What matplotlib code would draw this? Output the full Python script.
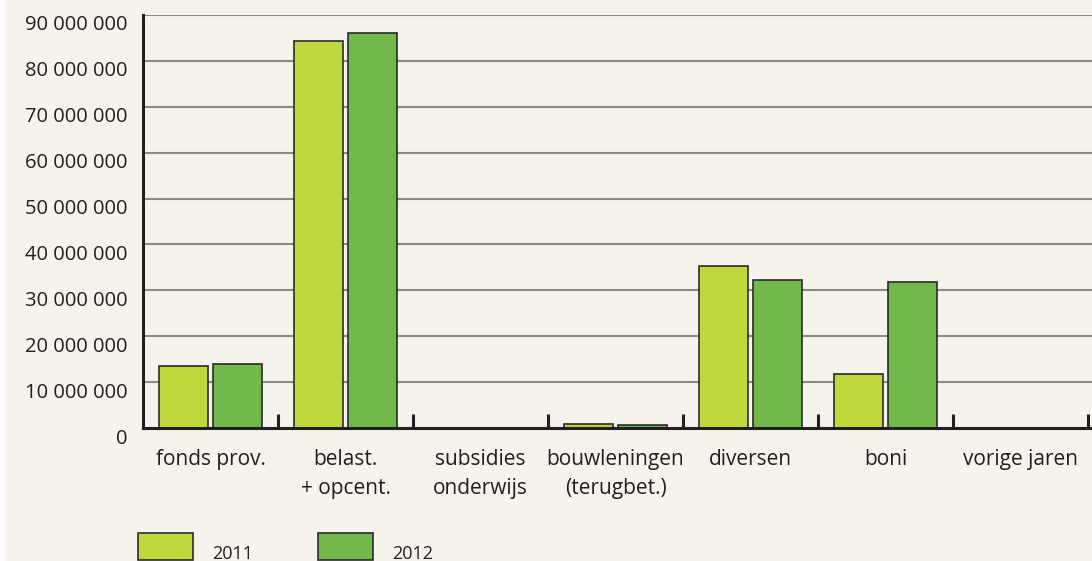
import matplotlib
matplotlib.use("Agg")
import matplotlib.pyplot as plt
import matplotlib.transforms as mtransforms
from matplotlib.patches import Rectangle
import numpy as np

categories = ["fonds prov.", "belast.\n+ opcent.", "subsidies\nonderwijs",
              "bouwleningen\n(terugbet.)", "diversen", "boni", "vorige jaren"]
values_2011 = [13.5e6, 84.3e6, 0.1e6, 0.9e6, 35.3e6, 11.8e6, 0.05e6]
values_2012 = [13.9e6, 86.1e6, 0.1e6, 0.7e6, 32.2e6, 31.8e6, 0.1e6]
series_labels = ["2011", "2012"]
ytick_values = [0, 10e6, 20e6, 30e6, 40e6, 50e6, 60e6, 70e6, 80e6, 90e6]
ytick_labels = ["0", "10 000 000", "20 000 000", "30 000 000", "40 000 000",
                "50 000 000", "60 000 000", "70 000 000", "80 000 000", "90 000 000"]

BG = "#f6f3ec"
C2011 = "#bfd83b"
C2012 = "#72b84a"
EDGE = "#2b2b2b"
TXT = "#231f20"

plt.rcParams["font.family"] = ["Open Sans", "DejaVu Sans"]

W, H = 1092, 561
fig = plt.figure(figsize=(W / 100, H / 100), dpi=100, facecolor=BG)
fig.add_artist(Rectangle((0, 0), 5 / W, 1, transform=fig.transFigure,
                         facecolor="white", edgecolor="none", zorder=0))

ax_l, ax_r, ax_t, ax_b = 143, 1092, 15, 428
ax = fig.add_axes([ax_l / W, 1 - ax_b / H, (ax_r - ax_l) / W, (ax_b - ax_t) / H])
ax.set_facecolor(BG)

x = np.arange(len(categories))
bw = 0.365
off = 0.2
ax.bar(x - off, values_2011, width=bw, color=C2011, edgecolor=EDGE, linewidth=1.2, zorder=3)
ax.bar(x + off, values_2012, width=bw, color=C2012, edgecolor=EDGE, linewidth=1.2, zorder=3)

ax.set_xlim(-0.5, -0.5 + (ax_r - ax_l) / 135.0)
ax.set_ylim(0, 90e6)

for v in ytick_values[1:]:
    ax.axhline(v, color="#8c8a86", linewidth=1.5, zorder=1)

for s in ["top", "right"]:
    ax.spines[s].set_visible(False)
for s in ["left", "bottom"]:
    ax.spines[s].set_color(TXT)
    ax.spines[s].set_linewidth(2.2)
    ax.spines[s].set_zorder(4)

ax.set_yticks(ytick_values)
ax.set_yticklabels(ytick_labels, fontsize=14.5, color=TXT)
ax.tick_params(axis="y", length=0, pad=11)
offset = mtransforms.ScaledTranslation(0, -8 / 100, fig.dpi_scale_trans)
for lab in ax.get_yticklabels():
    lab.set_transform(lab.get_transform() + offset)

ax.set_xticks(x)
ax.set_xticklabels(categories, fontsize=15, color=TXT, linespacing=1.5)
ax.tick_params(axis="x", which="major", length=0, pad=15)
ax.set_xticks(np.arange(len(categories)) + 0.5, minor=True)
ax.tick_params(axis="x", which="minor", direction="in", length=10, width=2.2, color=TXT)

# legend
leg_y = 1 - 560 / H
leg_h = 27 / H
for xs, col, lab in [(138, C2011, series_labels[0]), (318, C2012, series_labels[1])]:
    fig.add_artist(Rectangle((xs / W, leg_y), 55 / W, leg_h, transform=fig.transFigure,
                             facecolor=col, edgecolor=EDGE, linewidth=1.2))
    fig.text((xs + 74) / W, 1 - 554 / H, lab, fontsize=13, color=TXT, va="center", ha="left")

fig.savefig("out.png", dpi=100, facecolor=BG)
